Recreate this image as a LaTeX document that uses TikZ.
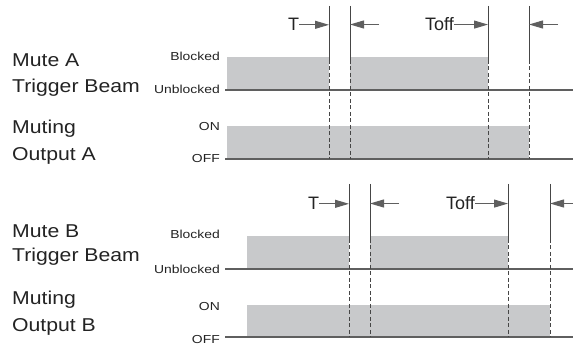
\documentclass[tikz,border=0pt]{standalone}
\usepackage{graphicx}
\usepackage{fontspec}
\setmainfont{Liberation Sans}
\usetikzlibrary{arrows.meta}
\definecolor{blk}{RGB}{200,201,203}
\definecolor{ln}{RGB}{95,95,95}
\definecolor{vl}{RGB}{70,70,70}
\definecolor{txt}{RGB}{35,35,35}
\newcommand\wide[2]{\scalebox{#1}[1]{#2}}
\tikzset{
  bigl/.style={anchor=base west, inner sep=0pt, text=txt, font=\fontsize{18.6}{20}\selectfont},
  smalll/.style={anchor=base east, inner sep=0pt, text=txt, font=\fontsize{11.6}{13}\selectfont},
  tlab/.style={anchor=base west, inner sep=0pt, text=txt, font=\fontsize{18}{20}\selectfont},
  blockfill/.style={fill=blk, draw=none},
  baseln/.style={draw=ln, line width=2pt},
  vsolid/.style={draw=vl, line width=0.8pt},
  vdash/.style={draw=vl, line width=0.8pt, dash pattern=on 4pt off 2.5pt},
  tarrow/.style={draw=ln, line width=1pt, -{Triangle[length=14pt,width=8pt]}},
}
\begin{document}
\begin{tikzpicture}[x=1pt,y=-1pt]
\useasboundingbox (0,0) rectangle (573,347);

% ---------------- Chart A ----------------
\node[bigl] (mA1) at (12,67) {\wide{1.14}{Mute A}};
\node[bigl] (mA2) at (12,93) {\wide{1.14}{Trigger Beam}};
\node[bigl] (oA1) at (12,134) {\wide{1.14}{Muting}};
\node[bigl] (oA2) at (12,161) {\wide{1.14}{Output A}};
\node[smalll] (bA) at (220,61) {\wide{1.2}{Blocked}};
\node[smalll] (uA) at (220,94) {\wide{1.2}{Unblocked}};
\node[smalll] (onA) at (220,131) {\wide{1.2}{ON}};
\node[smalll] (offA) at (220,163) {\wide{1.2}{OFF}};

\fill[blockfill] (227,57) rectangle (329,90);
\fill[blockfill] (350,57) rectangle (488,90);
\fill[blockfill] (227,126) rectangle (529,159);

\coordinate (bAs) at (225,90);  \coordinate (bAe) at (573,90);
\coordinate (oAs) at (225,159); \coordinate (oAe) at (573,159);
\draw[baseln] (bAs) -- (bAe);
\draw[baseln] (oAs) -- (oAe);

\foreach \x/\n in {329/A1,350/A2,488/A3,529/A4}{
  \coordinate (\n t) at (\x,6);
  \coordinate (\n m) at (\x,60);
  \coordinate (\n b) at (\x,159);
  \draw[vsolid] (\n t) -- (\n m);
  \draw[vdash] (\n m) -- (\n b);
}

\node[tlab] (tA) at (288,31) {T};
\draw[tarrow] (tA.east) -- (A1t |- tA.east);
\coordinate (lA2) at (379,24.5);
\draw[tarrow] (lA2) -- (A2t |- lA2);
\node[tlab] (toffA) at (425,31) {Toff};
\draw[tarrow] (toffA.east) -- (A3t |- toffA.east);
\coordinate (lA4) at (558,24.5);
\draw[tarrow] (lA4) -- (A4t |- lA4);

% ---------------- Chart B ----------------
\node[bigl] (mB1) at (12,238) {\wide{1.14}{Mute B}};
\node[bigl] (mB2) at (12,262) {\wide{1.14}{Trigger Beam}};
\node[bigl] (oB1) at (12,305) {\wide{1.14}{Muting}};
\node[bigl] (oB2) at (12,332) {\wide{1.14}{Output B}};
\node[smalll] (bB) at (220,239) {\wide{1.2}{Blocked}};
\node[smalll] (uB) at (220,274) {\wide{1.2}{Unblocked}};
\node[smalll] (onB) at (220,311) {\wide{1.2}{ON}};
\node[smalll] (offB) at (220,344) {\wide{1.2}{OFF}};

\fill[blockfill] (247,236) rectangle (349,269);
\fill[blockfill] (370,236) rectangle (508,269);
\fill[blockfill] (247,305) rectangle (550,337);

\coordinate (bBs) at (225,269); \coordinate (bBe) at (573,269);
\coordinate (oBs) at (225,337); \coordinate (oBe) at (573,337);
\draw[baseln] (bBs) -- (bBe);
\draw[baseln] (oBs) -- (oBe);

\foreach \x/\n in {349/B1,370/B2,508/B3,550/B4}{
  \coordinate (\n t) at (\x,184);
  \coordinate (\n m) at (\x,239);
  \coordinate (\n b) at (\x,337);
  \draw[vsolid] (\n t) -- (\n m);
  \draw[vdash] (\n m) -- (\n b);
}

\node[tlab] (tB) at (308,210) {T};
\draw[tarrow] (tB.east) -- (B1t |- tB.east);
\coordinate (lB2) at (399,203.5);
\draw[tarrow] (lB2) -- (B2t |- lB2);
\node[tlab] (toffB) at (446,210) {Toff};
\draw[tarrow] (toffB.east) -- (B3t |- toffB.east);
\coordinate (lB4) at (573,203.5);
\draw[tarrow] (lB4) -- (B4t |- lB4);
\end{tikzpicture}
\end{document}
